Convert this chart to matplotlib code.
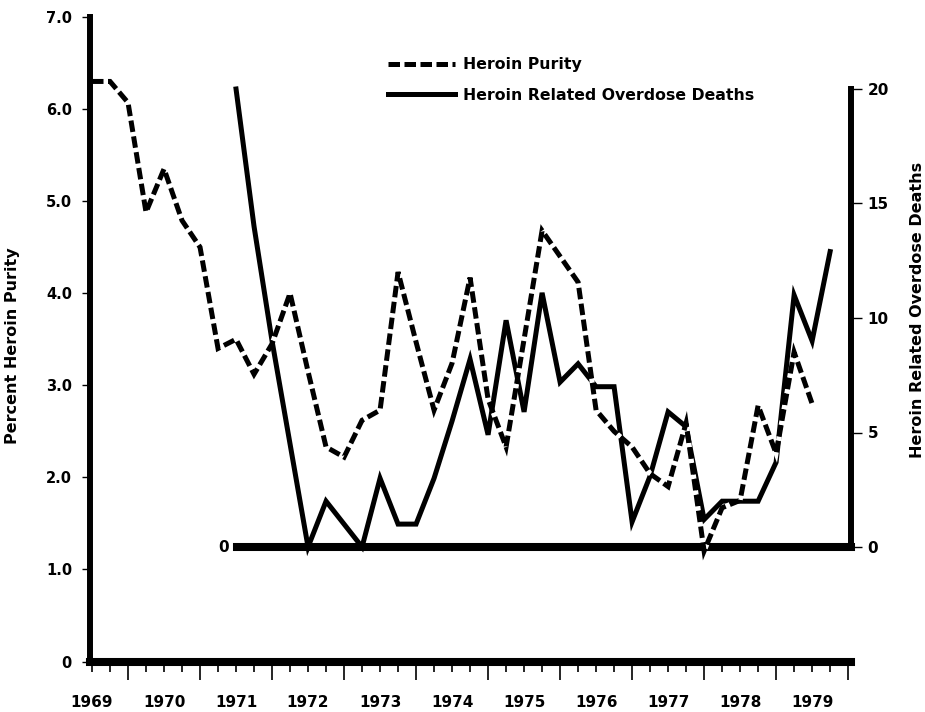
import numpy as np
import matplotlib
matplotlib.use("Agg")
import matplotlib.pyplot as plt

plt.rcParams["font.family"] = ["DejaVu Sans"]
plt.rcParams["font.weight"] = "bold"

# Quarterly series, first quarter plotted at mid-1969
purity_start = 1969.5
purity = [6.3, 6.3, 6.07, 4.88, 5.35, 4.79, 4.5, 3.4, 3.5, 3.12, 3.45, 4.0,
          3.15, 2.33, 2.22, 2.62, 2.73, 4.23, 3.47, 2.73, 3.24, 4.17, 2.85,
          2.33, 3.5, 4.68, 4.4, 4.12, 2.73, 2.5, 2.33, 2.04, 1.9, 2.59, 1.2,
          1.67, 1.75, 2.78, 2.26, 3.36, 2.8]

deaths_start = 1971.5
deaths = [20, 14, 9, 4.5, 0, 2, 1, 0, 3, 1, 1, 3, 5.5, 8.2, 4.9, 9.9, 5.9,
          11.1, 7.2, 8, 7, 7, 1.1, 3.1, 5.9, 5.25, 1.2, 2, 2, 2, 3.7, 11, 9,
          12.9]

years = list(range(1969, 1980))
purity_ticks = [0, 1, 2, 3, 4, 5, 6, 7]
purity_ticklabels = ["0", "1.0", "2.0", "3.0", "4.0", "5.0", "6.0", "7.0"]
death_ticks = [0, 5, 10, 15, 20]

t_purity = purity_start + 0.25 * np.arange(len(purity))
t_deaths = deaths_start + 0.25 * np.arange(len(deaths))

W, H = 925, 712
fig = plt.figure(figsize=(W / 100, H / 100), dpi=100)


def fx(px):
    return px / W


def fy(py):
    return 1 - py / H


XMIN, XMAX = 1969.472, 1980.04

ax = fig.add_axes([fx(90), fy(661.5), fx(851) - fx(90), fy(17) - fy(661.5)])
ax2 = fig.add_axes([fx(90), fy(547), fx(851) - fx(90), fy(89) - fy(547)])
ax.set_zorder(2)
ax2.set_zorder(1)
ax.patch.set_visible(False)

for a in (ax, ax2):
    a.set_xlim(XMIN, XMAX)
    for s in a.spines.values():
        s.set_visible(False)

ax.set_ylim(0, 7)
ax2.set_ylim(0, 20)

# main frame: left and bottom
ax.spines["left"].set_visible(True)
ax.spines["left"].set_linewidth(4.3)
ax.spines["bottom"].set_visible(True)
ax.spines["bottom"].set_linewidth(5.8)

# deaths scale: right axis and zero baseline
ax2.spines["right"].set_visible(True)
ax2.spines["right"].set_linewidth(4.3)
ax2.spines["bottom"].set_visible(True)
ax2.spines["bottom"].set_linewidth(5.8)
ax2.spines["bottom"].set_bounds(1971.52, XMAX)
ax2.set_xticks([])
ax2.yaxis.tick_right()
ax2.set_yticks(death_ticks)
ax2.set_yticklabels([str(v) for v in death_ticks])
ax2.tick_params(axis="y", direction="out", length=8, width=1, pad=4,
                labelsize=11)
ax2.text(1971.40, 0, "0", ha="right", va="center", fontsize=11,
         fontweight="bold")

# x axis: short quarter ticks (years labelled mid-year), long year-boundary ticks
quarters = np.arange(1969.5, 1980.01, 0.25)
short_ticks = [q for q in quarters if abs(q - round(q)) > 1e-6]
short_labels = [str(int(np.floor(q))) if abs((q % 1) - 0.5) < 1e-6 else ""
                for q in short_ticks]
long_ticks = [float(y) for y in range(1970, 1981)]
ax.set_xticks(short_ticks)
ax.set_xticklabels(short_labels)
ax.set_xticks(long_ticks, minor=True)
ax.tick_params(axis="x", which="major", direction="out", length=7, width=1.2,
               pad=17, labelsize=11)
ax.tick_params(axis="x", which="minor", direction="out", length=13, width=1.2)

ax.set_yticks(purity_ticks)
ax.set_yticklabels(purity_ticklabels)
ax.tick_params(axis="y", direction="out", length=6, width=1, pad=7,
               labelsize=10.5)

(h_deaths,) = ax2.plot(t_deaths, deaths, color="black", lw=3.6,
                       solid_joinstyle="miter", clip_on=False)
(h_purity,) = ax.plot(t_purity, purity, color="black", lw=3.6,
                      linestyle=(0, (2.3, 0.9)), gapcolor="white",
                      dash_capstyle="butt", dash_joinstyle="miter",
                      clip_on=False)

ax.legend([h_purity, h_deaths],
          ["Heroin Purity", "Heroin Related Overdose Deaths"],
          loc="upper left", bbox_to_anchor=(fx(388), fy(57)),
          bbox_transform=fig.transFigure, frameon=False, borderpad=0,
          borderaxespad=0, handlelength=4.3, handletextpad=0.5,
          labelspacing=1.0, prop={"weight": "bold", "size": 11.3})

fig.text(fx(13), fy(346), "Percent Heroin Purity", rotation=90,
         ha="center", va="center", fontsize=11.5, fontweight="bold")
fig.text(fx(917), fy(310), "Heroin Related Overdose Deaths", rotation=90,
         ha="center", va="center", fontsize=11.5, fontweight="bold")

fig.savefig("out.png", dpi=100, facecolor="white")
